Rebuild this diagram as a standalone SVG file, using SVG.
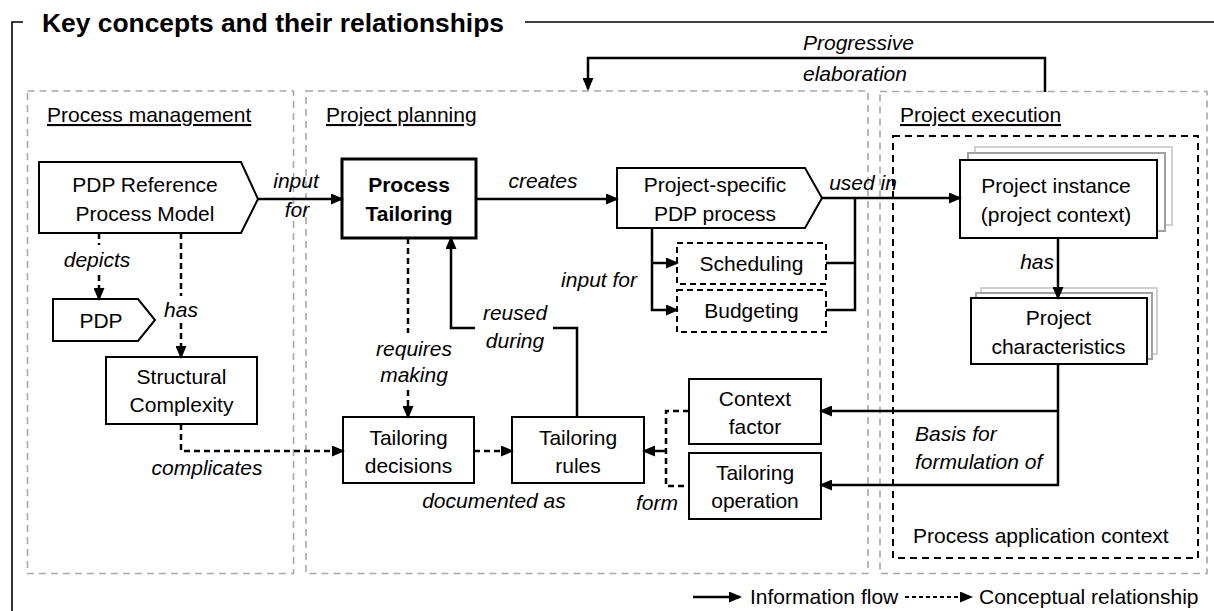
<svg xmlns="http://www.w3.org/2000/svg" width="1214" height="611" viewBox="0 0 1214 611">
  <style>
    text { font-family: "Liberation Sans", Arial, Helvetica, sans-serif; font-size: 21px; fill: #000; }
    .c { text-anchor: middle; }
    .it { font-style: italic; }
    .b { font-weight: bold; }
    .ul { text-decoration: underline; }
    .title { font-size: 26.4px; font-weight: bold; }
    .box { fill: #fff; stroke: #000; stroke-width: 2; }
    .thick { stroke-width: 3; }
    .dbox { fill: #fff; stroke: #000; stroke-width: 2; stroke-dasharray: 6 4; }
    .panel { fill: none; stroke: #a8a8a8; stroke-width: 1.6; stroke-dasharray: 7 5; }
    .ctx { fill: none; stroke: #000; stroke-width: 2; stroke-dasharray: 7 5; }
    .sh1 { fill: #fff; stroke: #a0a0a0; stroke-width: 2; }
    .sh2 { fill: #fff; stroke: #d0d0d0; stroke-width: 2; }
    .flow { fill: none; stroke: #000; stroke-width: 2.5; }
    .concept { fill: none; stroke: #000; stroke-width: 2.5; stroke-dasharray: 6 4; }
    .legend-concept { fill: none; stroke: #000; stroke-width: 2; stroke-dasharray: 4 3; }
    .frame { fill: none; stroke: #000; stroke-width: 1.6; }
  </style>
  <defs>
    <marker id="arrow" markerUnits="userSpaceOnUse" markerWidth="13" markerHeight="11" refX="11" refY="5.5" orient="auto">
      <path d="M0,0 L13,5.5 L0,11 z" fill="#000"/>
    </marker>
  </defs>

  <rect width="1214" height="611" fill="#fff"/>

  <!-- outer frame and title -->
  <g id="frame">
    <path class="frame" d="M23 22 H12 V611"/>
    <path class="frame" d="M525 22 H1214"/>
    <text class="title" x="42" y="32">Key concepts and their relationships</text>
  </g>

  <!-- swimlane panels -->
  <g id="panels">
    <rect class="panel" x="27.5" y="91" width="266" height="482.5"/>
    <text class="ul" x="47" y="122">Process management</text>
    <rect class="panel" x="306" y="91" width="562" height="482.5"/>
    <text class="ul" x="326" y="122">Project planning</text>
    <rect class="panel" x="880" y="91.5" width="327" height="482"/>
    <text class="ul" x="900" y="122">Project execution</text>
    <rect class="ctx" x="893" y="136" width="305" height="422"/>
    <text x="913" y="543">Process application context</text>
  </g>

  <!-- nodes -->
  <g id="pdp-reference-model">
    <polygon class="box" points="39,162 241,162 258,199 241,233 39,233"/>
    <text class="c" x="145" y="192">PDP Reference</text>
    <text class="c" x="145" y="221">Process Model</text>
  </g>

  <g id="pdp">
    <polygon class="box" points="53,299 138,299 155,320 138,341 53,341"/>
    <text class="c" x="101" y="328">PDP</text>
  </g>

  <g id="structural-complexity">
    <rect class="box" x="106" y="357" width="151" height="67"/>
    <text class="c" x="181.5" y="384">Structural</text>
    <text class="c" x="181.5" y="412">Complexity</text>
  </g>

  <g id="process-tailoring">
    <rect class="box thick" x="342" y="159" width="134" height="79"/>
    <text class="c b" x="409" y="192">Process</text>
    <text class="c b" x="409" y="221">Tailoring</text>
  </g>

  <g id="project-specific-process">
    <polygon class="box" points="617,168 805,168 822,198 805,228 617,228"/>
    <text class="c" x="715" y="192">Project-specific</text>
    <text class="c" x="715" y="221">PDP process</text>
  </g>

  <g id="scheduling">
    <rect class="dbox" x="677" y="243" width="149" height="41"/>
    <text class="c" x="751.5" y="271">Scheduling</text>
  </g>

  <g id="budgeting">
    <rect class="dbox" x="677" y="290" width="149" height="42"/>
    <text class="c" x="751.5" y="318">Budgeting</text>
  </g>

  <g id="tailoring-decisions">
    <rect class="box" x="343" y="417" width="131" height="66"/>
    <text class="c" x="408.5" y="445">Tailoring</text>
    <text class="c" x="408.5" y="473">decisions</text>
  </g>

  <g id="tailoring-rules">
    <rect class="box" x="512" y="417" width="132" height="66"/>
    <text class="c" x="578" y="445">Tailoring</text>
    <text class="c" x="578" y="473">rules</text>
  </g>

  <g id="context-factor">
    <rect class="box" x="689" y="379" width="132" height="65"/>
    <text class="c" x="755" y="406">Context</text>
    <text class="c" x="755" y="434">factor</text>
  </g>

  <g id="tailoring-operation">
    <rect class="box" x="689" y="453" width="132" height="66"/>
    <text class="c" x="755" y="480">Tailoring</text>
    <text class="c" x="755" y="508">operation</text>
  </g>

  <g id="project-instance">
    <rect class="sh2" x="975" y="147" width="197" height="78"/>
    <rect class="sh1" x="968" y="153" width="197" height="78"/>
    <rect class="box" x="960" y="160" width="197" height="78"/>
    <text class="c" x="1056" y="193">Project instance</text>
    <text class="c" x="1056" y="222">(project context)</text>
  </g>

  <g id="project-characteristics">
    <rect class="sh2" x="981" y="288" width="176" height="66"/>
    <rect class="sh1" x="976" y="293" width="176" height="66"/>
    <rect class="box" x="971" y="298" width="176" height="66"/>
    <text class="c" x="1058.5" y="325">Project</text>
    <text class="c" x="1058.5" y="354">characteristics</text>
  </g>

  <!-- connectors -->
  <g id="connectors">
    <!-- progressive elaboration -->
    <path class="flow" d="M1045 92 V58 H588 V89" marker-end="url(#arrow)"/>
    <text class="it" x="803" y="50">Progressive</text>
    <text class="it" x="803" y="81">elaboration</text>

    <!-- input for -->
    <path class="flow" d="M258 199 H342" marker-end="url(#arrow)"/>
    <text class="it c" x="296" y="188">input</text>
    <text class="it c" x="297" y="217">for</text>

    <!-- creates -->
    <path class="flow" d="M476 199 H617" marker-end="url(#arrow)"/>
    <text class="it c" x="543" y="188">creates</text>

    <!-- used in -->
    <path class="flow" d="M822 198 H960" marker-end="url(#arrow)"/>
    <text class="it c" x="863" y="190">used in</text>

    <!-- scheduling / budgeting -->
    <path class="flow" d="M652 228 V310 H677" marker-end="url(#arrow)"/>
    <path class="flow" d="M652 263 H677" marker-end="url(#arrow)"/>
    <text class="it" x="637" y="287" text-anchor="end">input for</text>
    <path class="flow" d="M826 263 H855 M826 310 H855 V198"/>

    <!-- has (project instance -> characteristics) -->
    <path class="flow" d="M1058 238 V298" marker-end="url(#arrow)"/>
    <text class="it" x="1054" y="269" text-anchor="end">has</text>

    <!-- basis for formulation of -->
    <path class="flow" d="M1058 364 V485 H821" marker-end="url(#arrow)"/>
    <path class="flow" d="M1058 411 H821" marker-end="url(#arrow)"/>
    <text class="it" x="915" y="441">Basis for</text>
    <text class="it" x="915" y="469">formulation of</text>

    <!-- form -->
    <path class="concept" d="M689 411 H666 V486 H689"/>
    <path class="flow" d="M666 451 H644" marker-end="url(#arrow)"/>
    <text class="it c" x="657" y="510">form</text>

    <!-- documented as -->
    <path class="concept" d="M474 451 H512" marker-end="url(#arrow)"/>
    <text class="it c" x="494" y="508">documented as</text>

    <!-- requires making -->
    <path class="concept" d="M408 238 V333"/>
    <path class="concept" d="M408 390 V417" marker-end="url(#arrow)"/>
    <text class="it c" x="414" y="356">requires</text>
    <text class="it c" x="414" y="382">making</text>

    <!-- reused during -->
    <path class="flow" d="M577 417 V328 H553"/>
    <path class="flow" d="M475 328 H451 V238" marker-end="url(#arrow)"/>
    <text class="it c" x="515" y="320">reused</text>
    <text class="it c" x="515" y="348">during</text>

    <!-- depicts -->
    <path class="concept" d="M99 233 V245"/>
    <path class="concept" d="M99 275 V299" marker-end="url(#arrow)"/>
    <text class="it c" x="97" y="267">depicts</text>

    <!-- has (reference model -> structural complexity) -->
    <path class="concept" d="M181 233 V296"/>
    <path class="concept" d="M181 323 V357" marker-end="url(#arrow)"/>
    <text class="it c" x="181" y="317">has</text>

    <!-- complicates -->
    <path class="concept" d="M181 424 V451 H343" marker-end="url(#arrow)"/>
    <text class="it c" x="207" y="475">complicates</text>
  </g>

  <!-- legend -->
  <g id="legend">
    <path class="flow" d="M693 597 H740" marker-end="url(#arrow)"/>
    <text x="750" y="604">Information flow</text>
    <path class="legend-concept" d="M905 597 H971" marker-end="url(#arrow)"/>
    <text x="979" y="604">Conceptual relationship</text>
  </g>
</svg>
